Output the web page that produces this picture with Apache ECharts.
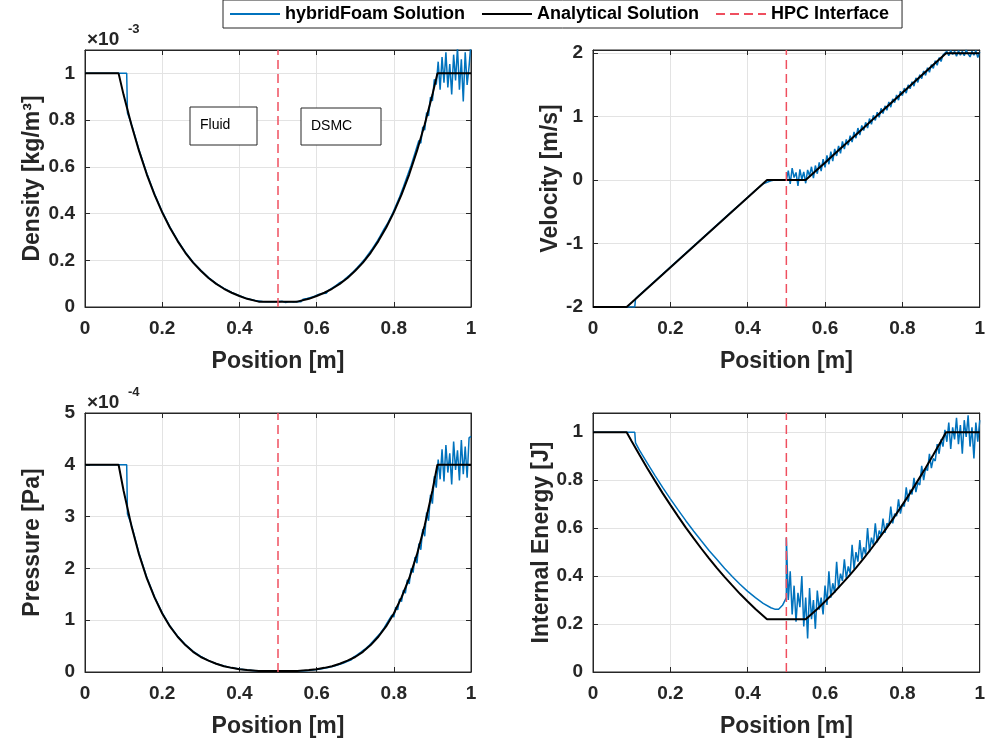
<!DOCTYPE html>
<html>
<head>
<meta charset="utf-8">
<script src="https://cdn.jsdelivr.net/npm/echarts@6/dist/echarts.min.js"></script>
<style>
  html, body { margin: 0; padding: 0; background: #fff; }
  #chart { width: 988px; height: 746px; }
</style>
</head>
<body>
<div id="chart"></div>
<script>
// analytical solution (black)
const xExact = [0, 0.087, 0.10, 0.12, 0.14, 0.16, 0.18, 0.20, 0.22, 0.24,
  0.26, 0.28, 0.30, 0.32, 0.34, 0.36, 0.38, 0.40, 0.42, 0.45,
  0.55, 0.58, 0.60, 0.62, 0.64, 0.66, 0.68, 0.70, 0.72, 0.74,
  0.76, 0.78, 0.80, 0.82, 0.84, 0.86, 0.88, 0.90, 0.913, 1]
const densExact = [1, 1, 0.908, 0.781, 0.668, 0.568, 0.481, 0.405, 0.339, 0.282,
  0.232, 0.190, 0.155, 0.124, 0.099, 0.078, 0.061, 0.047, 0.035, 0.023,
  0.023, 0.035, 0.047, 0.061, 0.078, 0.099, 0.124, 0.155, 0.190, 0.232,
  0.282, 0.339, 0.405, 0.481, 0.568, 0.668, 0.781, 0.908, 1, 1]
const velExact = [-2, -2, -1.928, -1.818, -1.708, -1.598, -1.488, -1.377, -1.267, -1.157,
  -1.047, -0.937, -0.826, -0.716, -0.606, -0.496, -0.386, -0.275, -0.165, 0,
  0, 0.165, 0.275, 0.386, 0.496, 0.606, 0.716, 0.826, 0.937, 1.047,
  1.157, 1.267, 1.377, 1.488, 1.598, 1.708, 1.818, 1.928, 2, 2]
const presExact = [4, 4, 3.50, 2.83, 2.27, 1.81, 1.44, 1.13, 0.88, 0.68,
  0.52, 0.39, 0.29, 0.22, 0.16, 0.11, 0.08, 0.055, 0.037, 0.02,
  0.02, 0.037, 0.055, 0.08, 0.11, 0.16, 0.22, 0.29, 0.39, 0.52,
  0.68, 0.88, 1.13, 1.44, 1.81, 2.27, 2.83, 3.50, 4, 4]
const energyExact = [1, 1, 0.962, 0.906, 0.851, 0.798, 0.746, 0.697, 0.649, 0.602,
  0.558, 0.515, 0.474, 0.434, 0.397, 0.361, 0.326, 0.294, 0.263, 0.22,
  0.22, 0.263, 0.294, 0.326, 0.361, 0.397, 0.434, 0.474, 0.515, 0.558,
  0.602, 0.649, 0.697, 0.746, 0.798, 0.851, 0.906, 0.962, 1, 1]

// hybridFoam, fluid side (x <= 0.5)
const xFluid = [0, 0.108, 0.11, 0.12, 0.14, 0.16, 0.18, 0.20, 0.22, 0.24,
  0.26, 0.28, 0.30, 0.32, 0.34, 0.36, 0.38, 0.40, 0.42, 0.44,
  0.46, 0.47, 0.48, 0.49, 0.50]
const densFluid = [1, 1, 0.83, 0.785, 0.672, 0.572, 0.484, 0.408, 0.342, 0.285,
  0.235, 0.192, 0.157, 0.126, 0.100, 0.080, 0.062, 0.048, 0.036, 0.028,
  0.024, 0.023, 0.022, 0.022, 0.022]
const velFluid = [-2, -2, -1.87, -1.81, -1.70, -1.59, -1.48, -1.37, -1.26, -1.15,
  -1.04, -0.93, -0.82, -0.71, -0.60, -0.49, -0.38, -0.27, -0.16, -0.06,
  -0.01, 0, 0, 0, 0]
const presFluid = [4, 4, 3.05, 2.85, 2.29, 1.83, 1.45, 1.14, 0.89, 0.69,
  0.53, 0.40, 0.30, 0.22, 0.16, 0.115, 0.08, 0.056, 0.038, 0.026,
  0.02, 0.018, 0.017, 0.017, 0.017]
const energyFluid = [1, 1, 0.955, 0.925, 0.872, 0.82, 0.77, 0.722, 0.676, 0.631,
  0.588, 0.547, 0.507, 0.47, 0.433, 0.398, 0.366, 0.336, 0.31, 0.286,
  0.268, 0.262, 0.262, 0.278, 0.31]

// hybridFoam, DSMC side: cells 0.500 .. 1.000, every 0.005
const dsmcStart = 0.5
const dsmcStep = 0.005
const densDsmc = [
  0.022, 0.020, 0.025, 0.021, 0.019, 0.026, 0.023, 0.029, 0.021, 0.027,
  0.024, 0.030, 0.023, 0.033, 0.028, 0.036, 0.034, 0.041, 0.037, 0.046,
  0.044, 0.054, 0.049, 0.058, 0.063, 0.059, 0.070, 0.067, 0.081, 0.079,
  0.092, 0.086, 0.104, 0.101, 0.113, 0.122, 0.119, 0.136, 0.134, 0.151,
  0.149, 0.168, 0.166, 0.186, 0.179, 0.206, 0.204, 0.228, 0.226, 0.251,
  0.247, 0.276, 0.274, 0.304, 0.301, 0.334, 0.330, 0.361, 0.364, 0.394,
  0.396, 0.432, 0.436, 0.471, 0.472, 0.515, 0.512, 0.561, 0.556, 0.607,
  0.602, 0.659, 0.651, 0.713, 0.701, 0.771, 0.757, 0.832, 0.818, 0.898,
  0.882, 0.975, 0.952, 1.05, 0.93, 1.07, 0.96, 1.09, 0.94, 1.04,
  0.91, 1.08, 0.97, 1.11, 0.93, 1.06, 0.88, 1.09, 0.95, 1.03,
  1.13]
const velDsmc = [
  0.0, 0.15, -0.06, 0.19, 0.04, 0.12, -0.09, 0.17, 0.01, 0.13,
  -0.05, 0.16, 0.07, 0.21, 0.03, 0.23, 0.10, 0.28, 0.14, 0.33,
  0.20, 0.39, 0.25, 0.45, 0.30, 0.49, 0.38, 0.54, 0.42, 0.61,
  0.49, 0.64, 0.55, 0.70, 0.60, 0.76, 0.66, 0.82, 0.71, 0.86,
  0.78, 0.91, 0.82, 0.97, 0.88, 1.02, 0.94, 1.07, 0.99, 1.13,
  1.05, 1.17, 1.10, 1.23, 1.15, 1.28, 1.22, 1.34, 1.26, 1.40,
  1.33, 1.45, 1.37, 1.50, 1.44, 1.55, 1.48, 1.61, 1.54, 1.66,
  1.60, 1.72, 1.65, 1.77, 1.70, 1.82, 1.76, 1.88, 1.81, 1.93,
  1.87, 1.97, 1.95, 2.03, 1.96, 2.04, 1.98, 2.03, 1.95, 2.04,
  1.97, 2.03, 1.96, 2.05, 1.99, 1.94, 2.03, 1.97, 2.04, 1.93,
  2.02]
const presDsmc = [
  0.017, 0.015, 0.019, 0.014, 0.018, 0.016, 0.020, 0.015, 0.019, 0.021,
  0.018, 0.024, 0.021, 0.028, 0.026, 0.033, 0.031, 0.040, 0.039, 0.049,
  0.046, 0.060, 0.058, 0.075, 0.072, 0.090, 0.088, 0.108, 0.106, 0.128,
  0.126, 0.152, 0.148, 0.178, 0.172, 0.208, 0.205, 0.242, 0.236, 0.283,
  0.272, 0.330, 0.318, 0.382, 0.368, 0.440, 0.422, 0.503, 0.490, 0.582,
  0.562, 0.665, 0.632, 0.748, 0.722, 0.852, 0.820, 0.975, 0.945, 1.10,
  1.06, 1.25, 1.20, 1.41, 1.36, 1.58, 1.52, 1.78, 1.70, 2.00,
  1.92, 2.22, 2.10, 2.48, 2.36, 2.76, 2.62, 3.08, 2.92, 3.42,
  3.25, 3.78, 3.56, 4.10, 3.72, 4.30, 3.68, 4.38, 3.85, 4.22,
  3.62, 4.45, 3.90, 4.28, 3.70, 4.48, 3.82, 4.35, 3.75, 4.52,
  4.55]
const energyDsmc = [
  0.56, 0.30, 0.42, 0.24, 0.36, 0.21, 0.33, 0.27, 0.40, 0.19,
  0.31, 0.14, 0.35, 0.22, 0.30, 0.18, 0.34, 0.26, 0.31, 0.24,
  0.36, 0.28, 0.42, 0.31, 0.37, 0.33, 0.46, 0.35, 0.41, 0.38,
  0.47, 0.39, 0.44, 0.41, 0.53, 0.43, 0.50, 0.46, 0.55, 0.47,
  0.52, 0.49, 0.60, 0.50, 0.56, 0.53, 0.62, 0.54, 0.59, 0.57,
  0.64, 0.58, 0.62, 0.61, 0.69, 0.62, 0.66, 0.65, 0.72, 0.66,
  0.70, 0.69, 0.77, 0.71, 0.76, 0.74, 0.81, 0.75, 0.79, 0.78,
  0.86, 0.80, 0.85, 0.84, 0.91, 0.85, 0.89, 0.88, 0.95, 0.91,
  0.97, 0.94, 1.01, 0.96, 1.04, 0.93, 1.02, 0.97, 1.06, 0.95,
  1.03, 0.91, 1.05, 0.98, 1.07, 0.94, 1.02, 0.89, 1.04, 0.96,
  1.05]

const interfaceX = 0.5

const blue = '#0072BD'
const frame = '#262626'
const font = '"Liberation Sans", Arial, sans-serif'

const xDsmc = densDsmc.map((_, i) => +(dsmcStart + i * dsmcStep).toFixed(3))
const pairs = (xs, ys) => xs.map((x, i) => [x, ys[i]])

// 四个子图
const panels = [
  { grid: { left: 85, top: 50, width: 386, height: 257 }, min: 0, max: 1.1, interval: 0.2,
    name: 'Density [kg/m³]', nameGap: 41, fluid: densFluid, dsmc: densDsmc, exact: densExact },
  { grid: { left: 593, top: 50, width: 387, height: 257 }, min: -2, max: 2.05, interval: 1,
    name: 'Velocity [m/s]', nameGap: 31, fluid: velFluid, dsmc: velDsmc, exact: velExact },
  { grid: { left: 85, top: 413, width: 386, height: 259 }, min: 0, max: 5, interval: 1,
    name: 'Pressure [Pa]', nameGap: 41, fluid: presFluid, dsmc: presDsmc, exact: presExact },
  { grid: { left: 593, top: 413, width: 387, height: 259 }, min: 0, max: 1.08, interval: 0.2,
    name: 'Internal Energy [J]', nameGap: 31, fluid: energyFluid, dsmc: energyDsmc, exact: energyExact }
]

const tickLabel = { fontSize: 19, fontWeight: 'bold', color: frame, fontFamily: font }
const axisName = { fontSize: 23, fontWeight: 'bold', color: frame, fontFamily: font }

const grids = [], xAxes = [], yAxes = [], series = []
panels.forEach((p, i) => {
  grids.push(Object.assign({ show: true, borderColor: frame, borderWidth: 1, backgroundColor: '#fff' }, p.grid))
  xAxes.push({
    type: 'value', gridIndex: i, min: 0, max: 1, interval: 0.2, position: 'bottom',
    name: 'Position [m]', nameLocation: 'middle', nameGap: 43, nameTextStyle: axisName,
    axisLine: { onZero: false, lineStyle: { color: frame } },
    axisTick: { inside: true, length: 5, lineStyle: { color: frame } },
    axisLabel: Object.assign({ margin: 12 }, tickLabel),
    splitLine: { show: true, lineStyle: { color: '#e3e3e3' } }
  })
  yAxes.push({
    type: 'value', gridIndex: i, min: p.min, max: p.max, interval: p.interval, position: 'left',
    name: p.name, nameLocation: 'middle', nameGap: p.nameGap, nameTextStyle: axisName,
    axisLine: { show: true, onZero: false, lineStyle: { color: frame } },
    axisTick: { show: true, inside: true, length: 5, lineStyle: { color: frame } },
    axisLabel: Object.assign({ margin: 10, showMaxLabel: p.max % p.interval === 0 }, tickLabel),
    splitLine: { show: true, lineStyle: { color: '#e3e3e3' } }
  })
  series.push({
    name: 'hybridFoam Solution', type: 'line', xAxisIndex: i, yAxisIndex: i,
    data: pairs(xFluid, p.fluid).concat(pairs(xDsmc, p.dsmc)),
    symbol: 'none', lineStyle: { color: blue, width: 1.5 }, itemStyle: { color: blue }, z: 2
  })
  series.push({
    name: 'Analytical Solution', type: 'line', xAxisIndex: i, yAxisIndex: i,
    data: pairs(xExact, p.exact),
    symbol: 'none', lineStyle: { color: '#000', width: 2 }, itemStyle: { color: '#000' }, z: 3
  })
  series.push({
    name: 'HPC Interface', type: 'line', xAxisIndex: i, yAxisIndex: i,
    data: [[interfaceX, p.min], [interfaceX, p.max]],
    symbol: 'none', lineStyle: { color: '#ef4f5f', width: 1.5, type: [9, 5] }, itemStyle: { color: '#ef4f5f' }, z: 4
  })
})
// top / right frame axes with inward ticks
panels.forEach((p, i) => {
  xAxes.push({
    type: 'value', gridIndex: i, min: 0, max: 1, interval: 0.2, position: 'top',
    axisLine: { onZero: false, lineStyle: { color: frame } },
    axisTick: { inside: true, length: 5, lineStyle: { color: frame } },
    axisLabel: { show: false }, splitLine: { show: false }
  })
  yAxes.push({
    type: 'value', gridIndex: i, min: p.min, max: p.max, interval: p.interval, position: 'right',
    axisLine: { show: true, onZero: false, lineStyle: { color: frame } },
    axisTick: { show: true, inside: true, length: 5, lineStyle: { color: frame } },
    axisLabel: { show: false }, splitLine: { show: false }
  })
})

const boxText = { fontSize: 14, fontFamily: font, fill: '#000' }
const expo = (x, y, txt) => [
  { type: 'text', left: x, top: y, style: { text: '×10', fontSize: 19, fontWeight: 'bold', fontFamily: font, fill: frame } },
  { type: 'text', left: x + 41, top: y - 7, style: { text: txt, fontSize: 13, fontWeight: 'bold', fontFamily: font, fill: frame } }
]

const chart = echarts.init(document.getElementById('chart'))
chart.setOption({
  animation: false,
  backgroundColor: '#fff',
  legend: {
    data: ['hybridFoam Solution', 'Analytical Solution', 'HPC Interface'],
    left: 223, top: 0, padding: [5, 13, 5, 6],
    itemWidth: 50, itemHeight: 14, itemGap: 16,
    itemStyle: { opacity: 0 },
    borderColor: frame, borderWidth: 1, backgroundColor: '#fff',
    textStyle: { fontSize: 18, fontWeight: 'bold', color: '#000', fontFamily: font }
  },
  grid: grids,
  xAxis: xAxes,
  yAxis: yAxes,
  series: series,
  graphic: [
    ...expo(87, 30, '-3'),
    ...expo(87, 393, '-4'),
    { type: 'rect', shape: { x: 190, y: 107, width: 67, height: 38 }, style: { fill: '#fff', stroke: frame, lineWidth: 1 }, z: 10 },
    { type: 'text', left: 200, top: 118, style: Object.assign({ text: 'Fluid' }, boxText), z: 11 },
    { type: 'rect', shape: { x: 301, y: 108, width: 80, height: 37 }, style: { fill: '#fff', stroke: frame, lineWidth: 1 }, z: 10 },
    { type: 'text', left: 311, top: 119, style: Object.assign({ text: 'DSMC' }, boxText), z: 11 }
  ]
})
</script>
</body>
</html>
